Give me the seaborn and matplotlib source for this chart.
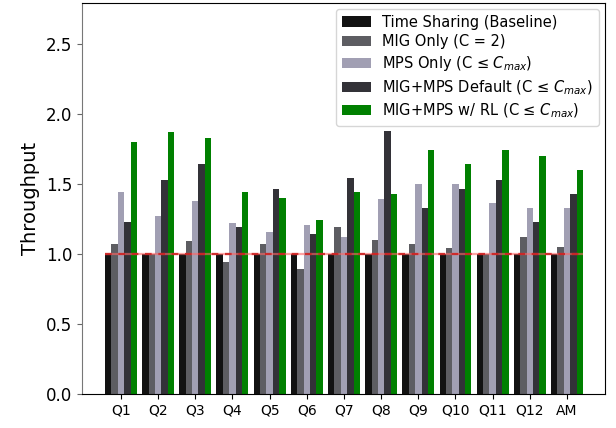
import matplotlib
matplotlib.use("Agg")
import matplotlib.pyplot as plt
import seaborn as sns
import pandas as pd

queries = ["Q1", "Q2", "Q3", "Q4", "Q5", "Q6", "Q7", "Q8", "Q9", "Q10", "Q11", "Q12", "AM"]
series_names = [
    "Time Sharing (Baseline)",
    "MIG Only (C = 2)",
    "MPS Only (C ≤ $C_{max}$)",
    "MIG+MPS Default (C ≤ $C_{max}$)",
    "MIG+MPS w/ RL (C ≤ $C_{max}$)",
]
time_sharing = [1.0, 1.0, 1.0, 1.0, 1.0, 1.0, 1.0, 1.0, 1.0, 1.0, 1.0, 1.0, 1.0]
mig_only = [1.07, 1.0, 1.09, 0.94, 1.07, 0.89, 1.19, 1.10, 1.07, 1.04, 1.0, 1.12, 1.05]
mps_only = [1.44, 1.27, 1.38, 1.22, 1.16, 1.21, 1.12, 1.39, 1.50, 1.50, 1.36, 1.33, 1.33]
mig_mps_default = [1.23, 1.53, 1.64, 1.19, 1.46, 1.14, 1.54, 1.88, 1.33, 1.46, 1.53, 1.23, 1.43]
mig_mps_rl = [1.80, 1.87, 1.83, 1.44, 1.40, 1.24, 1.44, 1.43, 1.74, 1.64, 1.74, 1.70, 1.60]
colors = ["#121212", "#5d5d62", "#a19fb3", "#333238", "#008000"]

series_values = [time_sharing, mig_only, mps_only, mig_mps_default, mig_mps_rl]
rows = []
for name, vals in zip(series_names, series_values):
    for q, v in zip(queries, vals):
        rows.append({"Query": q, "Config": name, "Throughput": v})
df = pd.DataFrame(rows)

fig, ax = plt.subplots(figsize=(6.16, 4.28), dpi=100)
fig.subplots_adjust(left=0.133, right=0.982, top=0.993, bottom=0.079)

sns.barplot(data=df, x="Query", y="Throughput", hue="Config",
            order=queries, hue_order=series_names, palette=colors,
            saturation=1, width=0.86, gap=0, errorbar=None, ax=ax,
            edgecolor="none", linewidth=0)

ax.hlines(1.0, -0.43, len(queries) - 1 + 0.43, colors="#ff6666", linewidth=1.6, alpha=0.6, zorder=3)
ax.hlines(1.0, -0.43, len(queries) - 1 + 0.43, colors="#cc2222", linestyles=(0, (3, 3)),
          linewidth=1.6, alpha=0.9, zorder=4)

ax.set_xlim(-1.05, len(queries) - 1 + 1.02)
ax.set_ylim(0, 2.79)
ax.set_yticks([0.0, 0.5, 1.0, 1.5, 2.0, 2.5])
ax.set_yticklabels(["0.0", "0.5", "1.0", "1.5", "2.0", "2.5"])
ax.set_xlabel("")
ax.set_ylabel("Throughput", fontsize=14)
ax.tick_params(axis="x", labelsize=10)
ax.tick_params(axis="y", labelsize=12, color="#666666")
ax.spines["left"].set_color("#777777")

handles, labels = ax.get_legend_handles_labels()
ax.legend(handles, labels, loc="upper right", fontsize=10.5, frameon=True,
          handlelength=2.0, labelspacing=0.33, borderaxespad=0.4)

fig.savefig("out.png", dpi=100)
